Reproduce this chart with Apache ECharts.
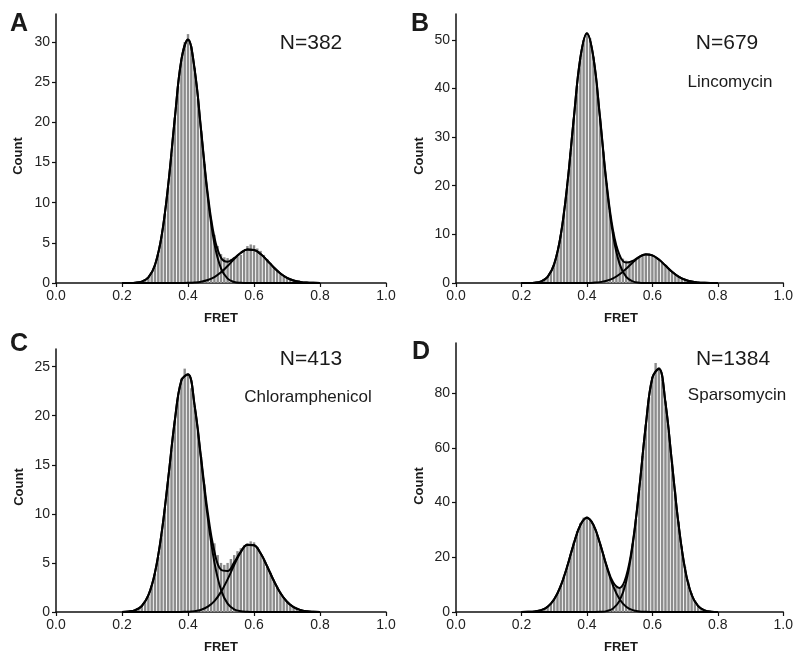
<!DOCTYPE html>
<html>
<head>
<meta charset="utf-8">
<title>FRET histograms</title>
<script src="https://cdn.jsdelivr.net/npm/echarts@6/dist/echarts.min.js"></script>
<style>
html, body { margin: 0; padding: 0; background: #fff; }
#chart { width: 796px; height: 654px; }
</style>
</head>
<body>
<div id="chart"></div>
<script>
// histogram bin centres (FRET)
var binX = [0.25, 0.26, 0.27, 0.28, 0.29, 0.30, 0.31, 0.32, 0.33, 0.34, 0.35, 0.36, 0.37, 0.38, 0.39,
            0.40, 0.41, 0.42, 0.43, 0.44, 0.45, 0.46, 0.47, 0.48, 0.49, 0.50, 0.51, 0.52, 0.53, 0.54,
            0.55, 0.56, 0.57, 0.58, 0.59, 0.60, 0.61, 0.62, 0.63, 0.64, 0.65, 0.66, 0.67, 0.68, 0.69,
            0.70, 0.71, 0.72, 0.73, 0.74, 0.75];

// counts per bin
var barsA = [0.1, 0.2, 0.4, 0.7, 1.3, 2.3, 3.6, 5.8, 8.6, 12.0, 16.0, 20.6, 24.5, 27.8, 30.0,
             31.0, 29.5, 26.8, 23.0, 19.0, 14.8, 11.0, 7.8, 6.0, 4.6, 3.6, 3.2, 3.1, 3.0, 3.2,
             3.3, 3.5, 4.0, 4.6, 4.8, 4.7, 4.3, 4.0, 3.5, 3.0, 2.5, 2.0, 1.5, 1.1, 0.8,
             0.6, 0.4, 0.3, 0.2, 0.1, 0.05];
var barsB = [0.15, 0.35, 0.7, 1.3, 2.3, 3.9, 6.3, 9.8, 14.6, 20.3, 26.8, 33.8, 40.5, 46.2, 50.0,
             51.5, 50.3, 46.5, 40.8, 34.0, 27.0, 20.5, 14.8, 10.5, 7.5, 5.8, 5.0, 4.6, 4.5, 4.7,
             5.0, 5.4, 5.8, 5.9, 5.9, 5.7, 5.3, 4.8, 4.2, 3.6, 2.9, 2.3, 1.8, 1.3, 0.9,
             0.65, 0.45, 0.3, 0.2, 0.1, 0.05];
var barsC = [0.4, 0.6, 1.0, 1.6, 2.6, 3.9, 5.6, 7.9, 10.5, 13.5, 16.5, 19.5, 22.0, 23.8, 24.8,
             24.3, 22.8, 21.0, 18.5, 15.8, 13.0, 10.0, 7.5, 7.0, 5.8, 5.0, 4.8, 5.0, 5.4, 5.8,
             6.2, 6.5, 6.8, 7.0, 7.2, 7.1, 6.6, 6.0, 5.4, 4.7, 4.0, 3.3, 2.6, 2.0, 1.5,
             1.1, 0.8, 0.5, 0.35, 0.2, 0.1];
var barsD = [0.4, 0.7, 1.2, 2.0, 3.2, 4.8, 7.0, 9.8, 13.2, 17.0, 21.0, 25.5, 29.5, 32.5, 34.5,
             35.0, 33.5, 31.5, 28.5, 25.0, 21.0, 17.0, 13.5, 10.5, 9.5, 9.0, 10.0, 12.0, 17.5, 25.0,
             34.0, 45.0, 57.0, 68.5, 78.5, 86.0, 91.0, 89.5, 85.0, 77.0, 66.0, 55.0, 44.0, 33.0, 24.0,
             16.5, 11.0, 7.0, 4.2, 2.4, 1.3];

// fitted gaussian curves, read at these FRET values
var curveX = [0.20, 0.22, 0.24, 0.26, 0.28, 0.30, 0.32, 0.34, 0.36, 0.38, 0.40, 0.42, 0.44, 0.46, 0.48, 0.50,
              0.52, 0.54, 0.56, 0.58, 0.60, 0.62, 0.64, 0.66, 0.68, 0.70, 0.72, 0.74, 0.76, 0.78, 0.80];
var fitA1 = [0, 0.01, 0.04, 0.18, 0.70, 2.25, 5.85, 12.2, 20.5, 27.8, 30.3, 26.6, 18.8, 10.7, 4.92, 1.82,
             0.54, 0.13, 0.03, 0, 0, 0, 0, 0, 0, 0, 0, 0, 0, 0, 0];
var fitA2 = [0, 0, 0, 0, 0, 0, 0, 0, 0, 0.01, 0.02, 0.06, 0.16, 0.37, 0.74, 1.33,
             2.11, 2.98, 3.74, 4.16, 4.11, 3.61, 2.81, 1.94, 1.19, 0.65, 0.32, 0.14, 0.05, 0.02, 0.01];
var fitB1 = [0, 0.01, 0.07, 0.33, 1.25, 3.88, 9.82, 20.2, 33.9, 46.3, 51.3, 46.3, 33.9, 20.2, 9.82, 3.88,
             1.25, 0.33, 0.07, 0.01, 0, 0, 0, 0, 0, 0, 0, 0, 0, 0, 0];
var fitB2 = [0, 0, 0, 0, 0, 0, 0, 0, 0, 0.01, 0.02, 0.07, 0.18, 0.45, 0.95, 1.79,
             2.94, 4.22, 5.32, 5.88, 5.68, 4.82, 3.58, 2.33, 1.33, 0.66, 0.29, 0.11, 0.04, 0.01, 0];
var fitC1 = [0.01, 0.05, 0.19, 0.61, 1.71, 4.03, 8.04, 13.6, 19.5, 23.6, 24.2, 21.0, 15.4, 9.58, 5.05, 2.25,
             0.85, 0.27, 0.07, 0.02, 0, 0, 0, 0, 0, 0, 0, 0, 0, 0, 0];
var fitC2 = [0, 0, 0, 0, 0, 0, 0, 0, 0, 0.01, 0.03, 0.09, 0.23, 0.54, 1.11, 2.05,
             3.33, 4.79, 6.09, 6.84, 6.80, 5.98, 4.64, 3.19, 1.94, 1.04, 0.49, 0.21, 0.08, 0.03, 0.01];
var fitD1 = [0.01, 0.05, 0.21, 0.68, 1.93, 4.65, 9.56, 16.7, 25.0, 31.8, 34.4, 31.8, 25.0, 16.7, 9.56, 4.65,
             1.93, 0.68, 0.21, 0.05, 0.01, 0, 0, 0, 0, 0, 0, 0, 0, 0, 0];
var fitD2 = [0, 0, 0, 0, 0, 0, 0, 0, 0, 0, 0, 0.01, 0.07, 0.33, 1.29, 4.16,
             11.1, 24.6, 45.0, 68.3, 85.6, 88.9, 76.5, 54.4, 32.1, 15.6, 6.30, 2.11, 0.58, 0.13, 0.03];

var xTicks = [0, 0.2, 0.4, 0.6, 0.8, 1.0];
var yTicksA = [0, 5, 10, 15, 20, 25, 30];
var yTicksB = [0, 10, 20, 30, 40, 50];
var yTicksC = [0, 5, 10, 15, 20, 25];
var yTicksD = [0, 20, 40, 60, 80];

var panels = [
    { bars: barsA, f1: fitA1, f2: fitA2, ticks: yTicksA, ymax: 33.5, grid: { left: 56, top: 14, width: 330, height: 269 } },
    { bars: barsB, f1: fitB1, f2: fitB2, ticks: yTicksB, ymax: 55.3, grid: { left: 456, top: 14, width: 330, height: 269 } },
    { bars: barsC, f1: fitC1, f2: fitC2, ticks: yTicksC, ymax: 26.8, grid: { left: 56, top: 349, width: 330, height: 263 } },
    { bars: barsD, f1: fitD1, f2: fitD2, ticks: yTicksD, ymax: 98.3, grid: { left: 456, top: 343, width: 330, height: 269 } }
];

var FONT = '"Liberation Sans", Arial, sans-serif';
var grids = [], xAxes = [], yAxes = [], series = [];

panels.forEach(function (p, i) {
    grids.push(p.grid);
    xAxes.push({
        gridIndex: i, type: 'value', min: 0, max: 1, interval: 0.2,
        axisLine: { show: true, lineStyle: { color: '#111', width: 1.5 } },
        axisTick: { show: true, length: 4, customValues: xTicks, lineStyle: { color: '#111', width: 1.2 } },
        axisLabel: { customValues: xTicks, formatter: function (v) { return v.toFixed(1); },
                     fontSize: 14, color: '#222', margin: 6, fontFamily: FONT },
        splitLine: { show: false }
    });
    yAxes.push({
        gridIndex: i, type: 'value', min: 0, max: p.ymax,
        axisLine: { show: true, lineStyle: { color: '#111', width: 1.5 } },
        axisTick: { show: true, length: 4, customValues: p.ticks, lineStyle: { color: '#111', width: 1.2 } },
        axisLabel: { customValues: p.ticks, fontSize: 14, color: '#222', margin: 6, fontFamily: FONT },
        splitLine: { show: false }
    });
    series.push({
        type: 'bar', xAxisIndex: i, yAxisIndex: i, barWidth: 2.4, silent: true,
        itemStyle: { color: '#8c8c8c' },
        data: binX.map(function (x, k) { return [x, p.bars[k]]; })
    });
    var sum = p.f1.map(function (v, k) { return v + p.f2[k]; });
    [p.f1, p.f2, sum].forEach(function (arr) {
        series.push({
            type: 'line', xAxisIndex: i, yAxisIndex: i, showSymbol: false, smooth: 0.4, silent: true, z: 5,
            lineStyle: { color: '#000', width: 2 },
            data: curveX.map(function (x, k) { return [x, arr[k]]; })
        });
    });
});

function txt(x, y, s, font, rot) {
    return { type: 'text', x: x, y: y, rotation: rot || 0,
             style: { text: s, font: font, fill: '#1a1a1a', align: 'center', verticalAlign: 'middle' } };
}
var big = 'bold 25px ' + FONT, lab = 'bold 13px ' + FONT;
var graphics = [
    txt(19, 24, 'A', big), txt(420, 24, 'B', big), txt(19, 344, 'C', big), txt(421, 352, 'D', big),
    txt(311, 43, 'N=382', '21px ' + FONT), txt(727, 43, 'N=679', '21px ' + FONT),
    txt(311, 359, 'N=413', '21px ' + FONT), txt(733, 359, 'N=1384', '21px ' + FONT),
    txt(730, 82, 'Lincomycin', '17px ' + FONT), txt(308, 397, 'Chloramphenicol', '17px ' + FONT),
    txt(737, 395, 'Sparsomycin', '17px ' + FONT),
    txt(18, 156, 'Count', lab, Math.PI / 2), txt(419, 156, 'Count', lab, Math.PI / 2),
    txt(19, 487, 'Count', lab, Math.PI / 2), txt(419, 486, 'Count', lab, Math.PI / 2),
    txt(221, 318, 'FRET', lab), txt(621, 318, 'FRET', lab),
    txt(221, 647, 'FRET', lab), txt(621, 647, 'FRET', lab)
];

var myChart = echarts.init(document.getElementById('chart'));
myChart.setOption({
    animation: false,
    grid: grids,
    xAxis: xAxes,
    yAxis: yAxes,
    series: series,
    graphic: graphics
});
</script>
</body>
</html>
